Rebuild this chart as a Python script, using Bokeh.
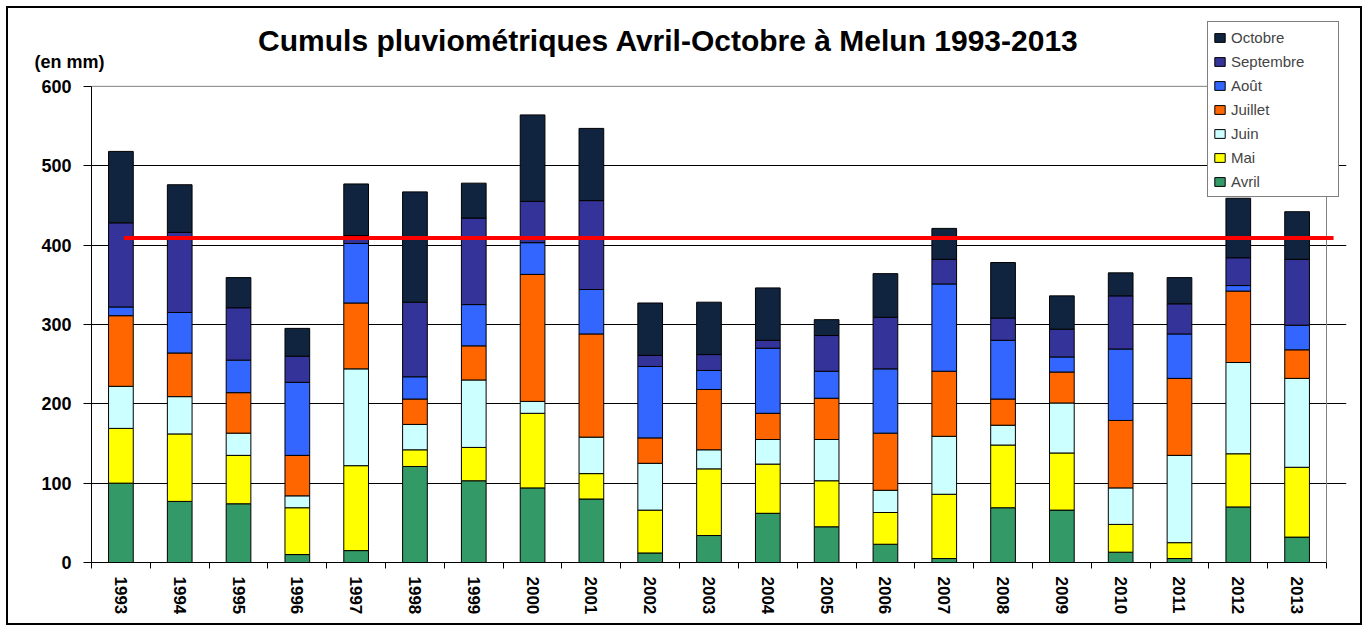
from bokeh.plotting import figure
from bokeh.models import (ColumnDataSource, Range1d, FixedTicker, Legend, LegendItem, Label,
                          LinearAxis)
from bokeh.embed import file_html
from bokeh.resources import INLINE

years = ["1993", "1994", "1995", "1996", "1997", "1998", "1999", "2000", "2001", "2002", "2003",
         "2004", "2005", "2006", "2007", "2008", "2009", "2010", "2011", "2012", "2013"]
months = ["Avril", "Mai", "Juin", "Juillet", "Août", "Septembre", "Octobre"]
colors = ["#339966", "#FFFF00", "#CCFFFF", "#FF6600", "#3366FF", "#333399", "#10243F"]

avril = [100, 77, 74, 10, 15, 121, 103, 94, 80, 12, 34, 62, 45, 23, 5, 69, 66, 13, 5, 70, 32]
mai = [69, 85, 61, 59, 107, 21, 42, 94, 32, 54, 84, 62, 58, 40, 81, 79, 72, 35, 20, 67, 88]
juin = [53, 47, 28, 15, 122, 32, 85, 15, 46, 59, 24, 31, 52, 28, 73, 25, 63, 46, 110, 115, 112]
juillet = [89, 55, 51, 51, 83, 32, 43, 160, 130, 32, 76, 33, 52, 72, 82, 33, 39, 85, 97, 90, 36]
aout = [11, 51, 41, 92, 75, 28, 52, 40, 56, 90, 24, 82, 34, 81, 110, 74, 19, 90, 56, 7, 31]
septembre = [106, 101, 66, 33, 10, 94, 109, 52, 112, 14, 20, 10, 45, 65, 31, 28, 35, 67, 38, 35, 83]
octobre = [90, 60, 38, 35, 65, 139, 44, 109, 91, 66, 66, 66, 20, 55, 39, 70, 42, 29, 33, 75, 60]
moyenne = 409

y_ticks = [0, 100, 200, 300, 400, 500, 600]
y_max = 600
unit_text = "(en mm)"
title_text = "Cumuls pluviométriques Avril-Octobre à Melun 1993-2013"

FONT = "Liberation Sans"
Y_TOP = 688      # headroom above the 600 line holds the title and the legend
X_PAD = 0.34     # room right of the last category holds the legend's right part
UNIT_POS = 631   # height of the "(en mm)" caption

n = len(years)
centers = [i + 0.5 for i in range(n)]
bounds = [float(i) for i in range(n + 1)]

data = dict(x=centers)
for m, vals in zip(months, [avril, mai, juin, juillet, aout, septembre, octobre]):
    data[m] = vals
source = ColumnDataSource(data)

p = figure(width=1352, height=615, output_backend="svg", toolbar_location=None,
           x_range=Range1d(0, n + X_PAD), y_range=Range1d(0, Y_TOP),
           min_border_left=83, min_border_right=14, min_border_top=8, min_border_bottom=61,
           styles={"margin": "8px 0 0 8px", "outline": "2px solid black"})
p.outline_line_color = None
p.background_fill_color = "white"
p.border_fill_color = "white"

# plot-area frame (grey) top and right
p.line(x=[0, n], y=[y_max, y_max], line_color="#808080", line_width=1)
p.line(x=[n, n], y=[0, y_max], line_color="#808080", line_width=1)

renderers = p.vbar_stack(months, x="x", width=0.42, color=colors, line_color="black",
                         line_width=1, source=source)

p.line(x=[centers[0] + 0.05, n + 0.12], y=[moyenne, moyenne], line_color="#FF0000", line_width=4)

# grid
p.xgrid.visible = False
p.ygrid.grid_line_color = "black"
p.ygrid.grid_line_width = 1
p.ygrid.ticker = FixedTicker(ticks=y_ticks[1:-1])
p.ygrid.bounds = (0, n)

# y axis
ya = p.yaxis[0]
ya.ticker = FixedTicker(ticks=y_ticks)
ya.bounds = (0, y_max)
ya.major_tick_out = 8
ya.major_tick_in = 0
ya.minor_tick_out = 0
ya.minor_tick_in = 0
ya.axis_line_color = "black"
ya.major_label_text_font = FONT
ya.major_label_text_font_style = "bold"
ya.major_label_text_font_size = "18px"
ya.major_label_text_color = "black"
ya.major_label_standoff = 12

# second (label-only) left axis carrying the unit caption
ua = LinearAxis(ticker=FixedTicker(ticks=[UNIT_POS]),
                major_label_overrides={UNIT_POS: unit_text},
                major_tick_out=0, major_tick_in=0, minor_tick_out=0, minor_tick_in=0,
                axis_line_color=None, major_tick_line_color=None, minor_tick_line_color=None,
                major_label_text_font=FONT, major_label_text_font_style="bold",
                major_label_text_font_size="18px", major_label_text_color="black",
                major_label_standoff=-66)
p.add_layout(ua, "left")

# x axis
xa = p.xaxis[0]
xa.ticker = FixedTicker(ticks=centers, minor_ticks=bounds)
xa.bounds = (0, n)
xa.major_label_overrides = {c: y for c, y in zip(centers, years)}
xa.major_tick_out = 0
xa.major_tick_in = 0
xa.minor_tick_out = 6
xa.minor_tick_in = 0
xa.minor_tick_line_color = "black"
xa.axis_line_color = "black"
xa.major_label_orientation = "vertical"
xa.major_label_text_font = FONT
xa.major_label_text_font_style = "bold"
xa.major_label_text_font_size = "17px"
xa.major_label_text_color = "black"
xa.major_label_standoff = 8

# title
p.add_layout(Label(x=577, y=522, x_units="screen", y_units="screen",
                   text=title_text,
                   text_font=FONT, text_font_style="bold", text_font_size="30px",
                   text_align="center", text_baseline="middle", text_color="black"))

items = [LegendItem(label=m, renderers=[r]) for m, r in zip(months, renderers)][::-1]
legend = Legend(items=items, location=(1116, 365), padding=5, spacing=4,
                label_height=20, glyph_height=11, glyph_width=13, label_standoff=5,
                label_width=102, label_text_font=FONT, label_text_font_size="15px",
                border_line_color="black", border_line_width=1,
                background_fill_color="white", background_fill_alpha=1.0, margin=0)
p.add_layout(legend, "center")

open("out.html", "w").write(file_html(p, INLINE))
